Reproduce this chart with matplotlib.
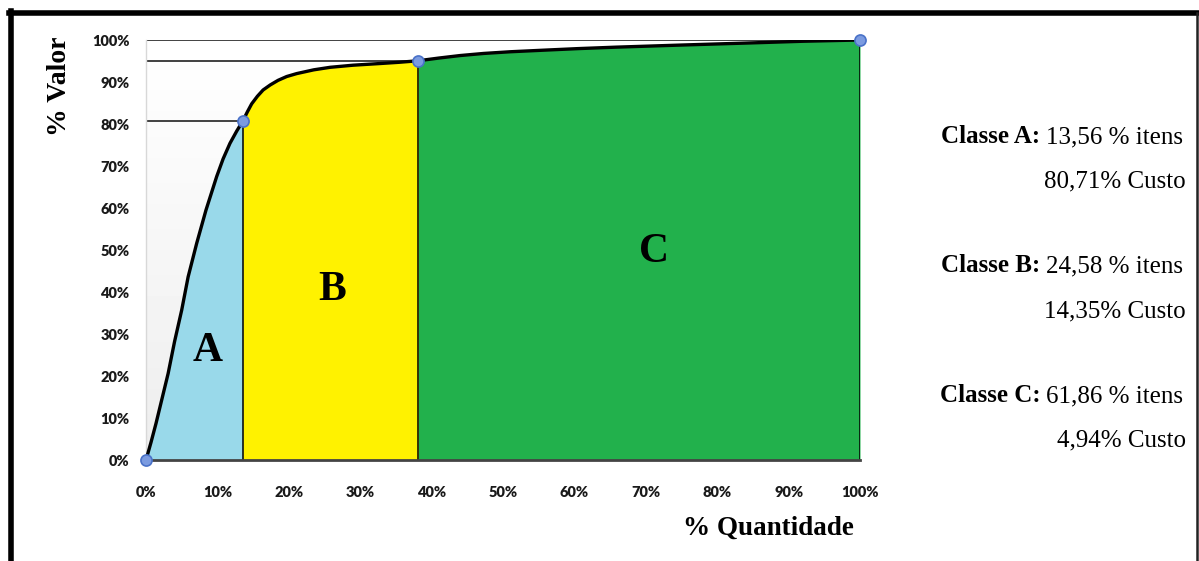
import numpy as np
import matplotlib.pyplot as plt
from matplotlib.lines import Line2D

# Cumulative ABC curve (% items vs % value)
qtd = [0, 0.7, 1.4, 2.2, 3.1, 4.0, 5.0, 5.9, 7.1, 8.4, 9.9, 10.8, 11.76, 12.7, 13.56,
       14.2, 14.8, 15.6, 16.4, 17.4, 18.5, 19.7, 21.1, 23.5, 25.8, 29.0, 32.8, 35.5, 38.14,
       41.0, 44.0, 47.3, 51.0, 56.0, 60.5, 65.9, 75.0, 84.6, 92.0, 100.0]
valor = [0, 4.2, 8.7, 14.3, 20.6, 28.2, 35.7, 43.6, 51.6, 59.5, 67.5, 71.7, 75.4, 78.3, 80.71,
         82.9, 84.8, 86.6, 88.1, 89.3, 90.4, 91.3, 92.0, 92.9, 93.5, 94.0, 94.4, 94.7, 95.06,
         95.7, 96.3, 96.8, 97.2, 97.6, 97.95, 98.3, 98.8, 99.3, 99.7, 100.0]

# class limits on the x axis and their cumulative value
limites_x = [0, 13.56, 38.14, 100.0]
limites_y = [0, 80.71, 95.06, 100.0]
classes = ['A', 'B', 'C']
cores = ['#99d9ea', '#fff200', '#22b14c']
pos_letras = [(8.6, 26), (26.1, 40.5), (71.2, 49.5)]

itens = ['13,56', '24,58', '61,86']
custo = ['80,71', '14,35', '4,94']

ticks = list(range(0, 101, 10))
tick_labels = [f'{t}%' for t in ticks]

serif = 'Liberation Serif'

fig = plt.figure(figsize=(11.99, 5.61), dpi=100)
ax = fig.add_axes([146 / 1199, 1 - 460 / 561, 714 / 1199, 420 / 561])

# soft grey-to-white plot background
grad = np.linspace(0.93, 1.0, 100).reshape(-1, 1)
ax.imshow(grad, cmap='gray', vmin=0, vmax=1, origin='lower', extent=[0, 100, 0, 100],
          aspect='auto', zorder=0)

x = np.array(qtd)
y = np.array(valor)
for i, (cl, cor) in enumerate(zip(classes, cores)):
    m = (x >= limites_x[i]) & (x <= limites_x[i + 1])
    ax.fill_between(x[m], 0, y[m], color=cor, lw=0, zorder=1)
    ax.text(*pos_letras[i], cl, fontsize=30, fontweight='bold', family=serif,
            ha='center', va='center', zorder=5)

# vertical separators and horizontal guides
for lx, ly in zip(limites_x[1:], limites_y[1:]):
    ax.plot([lx, lx], [0, ly], color='black', lw=1.1, zorder=2)
    ax.plot([0, lx], [ly, ly], color='#333333', lw=1.3, zorder=2)

ax.plot(x, y, color='black', lw=2.4, solid_joinstyle='round', zorder=3)
ax.plot(limites_x, limites_y, 'o', ms=8, mfc='#7b9be0', mec='#4a72c8', mew=1.2,
        zorder=4, clip_on=False)

ax.set_xlim(0, 100)
ax.set_ylim(0, 100)
ax.set_xticks(ticks)
ax.set_yticks(ticks)
ax.set_xticklabels(tick_labels)
ax.set_yticklabels(tick_labels)
for lab in ax.get_xticklabels() + ax.get_yticklabels():
    lab.set_family('Lato')
    lab.set_fontweight('heavy')
    lab.set_fontsize(10.5)
    lab.set_color('#1a1a1a')
ax.tick_params(axis='x', length=0, pad=19)
ax.tick_params(axis='y', length=0, pad=12)

for s in ['top', 'right']:
    ax.spines[s].set_visible(False)
ax.spines['left'].set_color('#d8d8d8')
ax.spines['left'].set_linewidth(1)
ax.spines['bottom'].set_color('#444444')
ax.spines['bottom'].set_linewidth(2)

fig.text(59 / 1199, 1 - 86 / 561, '% Valor', rotation=90, family=serif, fontweight='bold',
         fontsize=20, ha='center', va='center')
fig.text(768 / 1199, 1 - 528 / 561, '% Quantidade', family=serif, fontweight='bold',
         fontsize=19.5, ha='center', va='center')

# class summary on the right (baselines in pixels from the top)
linhas_y = [(143, 187), (272, 317), (402, 446)]
for cl, it, cu, (y1, y2) in zip(classes, itens, custo, linhas_y):
    yb = 1 - y1 / 561
    t = fig.text(1183 / 1199, yb, f'{it} % itens', family=serif, fontsize=18,
                 ha='right', va='baseline')
    fig.text(1186 / 1199, 1 - y2 / 561, f'{cu}% Custo', family=serif, fontsize=18,
             ha='right', va='baseline')
    ax.annotate(f'Classe {cl}:', xy=(0, yb), xycoords=(t, 'figure fraction'),
                xytext=(-4, 0), textcoords='offset points', family=serif,
                fontweight='bold', fontsize=18, ha='right', va='baseline')

# frame around the figure
fig.add_artist(Line2D([9 / 1199, 1], [1 - 13 / 561] * 2, color='black', lw=4))
fig.add_artist(Line2D([11 / 1199] * 2, [0, 1 - 11 / 561], color='black', lw=4))
fig.add_artist(Line2D([1197 / 1199] * 2, [0, 1 - 13 / 561], color='#222222', lw=1.8))

fig.savefig('out.png', dpi=100)
